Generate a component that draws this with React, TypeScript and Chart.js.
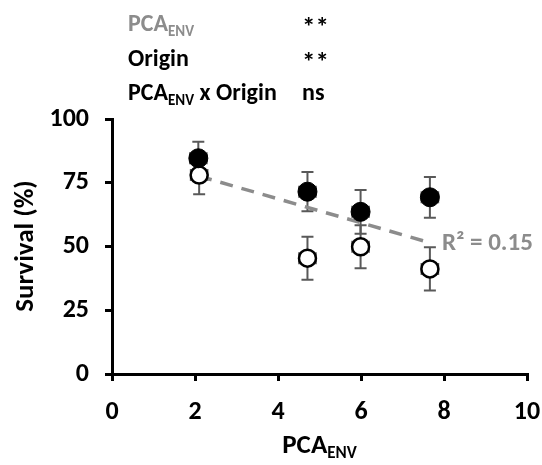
import React, { useEffect, useRef } from "react";
import { Chart, registerables } from "chart.js";

Chart.register(...registerables);

const xFilled = [2.08, 4.71, 5.99, 7.66];
const yFilled = [84.6, 71.5, 63.6, 69.3];
const errFilled = [6.5, 7.7, 8.6, 8.0];

const xOpen = [2.1, 4.71, 5.99, 7.66];
const yOpen = [78.0, 45.4, 49.9, 41.2];
const errOpen = [7.5, 8.4, 8.4, 8.5];

const xErr = [0.2, 0.2, 0.2, 0.2];

const trendX = [2.1, 7.66];
const trendY = [77.6, 51.5];

const yTicks = [0, 25, 50, 75, 100];
const xTicks = [0, 2, 4, 6, 8, 10];

const statLabels = ["PCA|ENV", "Origin", "PCA|ENV| x Origin"];
const statValues = ["**", "**", "ns"];
const r2Label = "R² = 0.15";

const FONT = "Carlito, 'Liberation Sans Narrow', Lato, sans-serif";
const GRAY = "#8c8c8c";
const ERR = "#595959";

function drawSub(ctx: CanvasRenderingContext2D, x: number, y: number, text: string, size: number, color: string) {
  const parts = text.split("|");
  let cx = x;
  parts.forEach((p, i) => {
    const isSub = i % 2 === 1;
    ctx.font = `bold ${isSub ? Math.round(size * 0.62) : size}px ${FONT}`;
    ctx.fillStyle = color;
    ctx.textBaseline = "alphabetic";
    ctx.textAlign = "left";
    ctx.fillText(p, cx, isSub ? y + size * 0.2 : y);
    cx += ctx.measureText(p).width;
  });
  return cx;
}

function measureSub(ctx: CanvasRenderingContext2D, text: string, size: number) {
  const parts = text.split("|");
  let w = 0;
  parts.forEach((p, i) => {
    const isSub = i % 2 === 1;
    ctx.font = `bold ${isSub ? Math.round(size * 0.62) : size}px ${FONT}`;
    w += ctx.measureText(p).width;
  });
  return w;
}

const overlayPlugin = {
  id: "overlay",
  beforeDatasetsDraw(chart: any) {
    const ctx = chart.ctx as CanvasRenderingContext2D;
    const xs = chart.scales.x;
    const ys = chart.scales.y;
    ctx.save();
    ctx.strokeStyle = ERR;
    ctx.lineWidth = 2;
    const cap = 6;
    const drawErr = (xv: number[], yv: number[], ev: number[]) => {
      for (let i = 0; i < xv.length; i++) {
        const px = xs.getPixelForValue(xv[i]);
        const py = ys.getPixelForValue(yv[i]);
        const top = ys.getPixelForValue(yv[i] + ev[i]);
        const bot = ys.getPixelForValue(yv[i] - ev[i]);
        const l = xs.getPixelForValue(xv[i] - xErr[i]);
        const r = xs.getPixelForValue(xv[i] + xErr[i]);
        ctx.beginPath();
        ctx.moveTo(px, top);
        ctx.lineTo(px, bot);
        ctx.moveTo(px - cap, top);
        ctx.lineTo(px + cap, top);
        ctx.moveTo(px - cap, bot);
        ctx.lineTo(px + cap, bot);
        ctx.moveTo(l, py);
        ctx.lineTo(r, py);
        ctx.moveTo(l, py - cap);
        ctx.lineTo(l, py + cap);
        ctx.moveTo(r, py - cap);
        ctx.lineTo(r, py + cap);
        ctx.stroke();
      }
    };
    drawErr(xFilled, yFilled, errFilled);
    drawErr(xOpen, yOpen, errOpen);
    ctx.restore();
  },
  afterDraw(chart: any) {
    const ctx = chart.ctx as CanvasRenderingContext2D;
    const xs = chart.scales.x;
    const ys = chart.scales.y;
    const area = chart.chartArea;
    ctx.save();
    // stats block
    const baselines = [31, 66, 100];
    statLabels.forEach((t, i) => {
      drawSub(ctx, 128, baselines[i], t, 24, i === 0 ? GRAY : "#000");
      const isNs = statValues[i] === "ns";
      ctx.font = `bold ${isNs ? 24 : 27}px ${FONT}`;
      ctx.fillStyle = "#000";
      ctx.textAlign = "left";
      ctx.fillText(statValues[i], 302, baselines[i] + (isNs ? 0 : 5));
    });
    // R2 label
    ctx.font = `bold 25px ${FONT}`;
    ctx.fillStyle = GRAY;
    ctx.textAlign = "left";
    ctx.textBaseline = "middle";
    ctx.fillText(r2Label, xs.getPixelForValue(7.95), ys.getPixelForValue(51));
    // x title
    const xt = "PCA|ENV";
    const w = measureSub(ctx, xt, 27);
    drawSub(ctx, (area.left + area.right) / 2 - w / 2, 453, xt, 27, "#000");
    // y title
    ctx.translate(33, 246);
    ctx.rotate(-Math.PI / 2);
    ctx.font = `bold 27px ${FONT}`;
    ctx.fillStyle = "#000";
    ctx.textAlign = "center";
    ctx.textBaseline = "alphabetic";
    ctx.fillText("Survival (%)", 0, 0);
    ctx.restore();
  },
};

export default function App() {
  const ref = useRef<HTMLCanvasElement>(null);
  useEffect(() => {
    if (!ref.current) return;
    const chart = new Chart(ref.current, {
      type: "scatter",
      data: {
        datasets: [
          {
            type: "line",
            data: trendX.map((x, i) => ({ x, y: trendY[i] })),
            borderColor: GRAY,
            borderWidth: 3.5,
            borderDash: [13, 9],
            pointRadius: 0,
            fill: false,
            order: 3,
          },
          {
            data: xOpen.map((x, i) => ({ x, y: yOpen[i] })),
            backgroundColor: "#fff",
            borderColor: "#000",
            borderWidth: 2.5,
            pointRadius: 8.5,
            order: 2,
          },
          {
            data: xFilled.map((x, i) => ({ x, y: yFilled[i] })),
            backgroundColor: "#000",
            borderColor: "#000",
            borderWidth: 1,
            pointRadius: 9.5,
            order: 1,
          },
        ] as any,
      },
      options: {
        animation: false,
        responsive: false,
        layout: { padding: { top: 119, right: 15, left: 0, bottom: 0 } },
        plugins: { legend: { display: false }, tooltip: { enabled: false } },
        scales: {
          x: {
            type: "linear",
            min: 0,
            max: 10,
            afterBuildTicks: (s: any) => {
              s.ticks = xTicks.map((v) => ({ value: v }));
            },
            afterFit: (s: any) => {
              s.height = 91;
              s.paddingLeft = 0;
              s.paddingRight = 0;
            },
            border: { color: "#000", width: 3 },
            grid: { display: true, drawOnChartArea: false, drawTicks: true, tickLength: 7, color: "#000", lineWidth: 3 },
            ticks: { color: "#000", font: { family: FONT, size: 26, weight: "bold" }, padding: 16, maxRotation: 0 },
          },
          y: {
            type: "linear",
            min: 0,
            max: 100,
            afterBuildTicks: (s: any) => {
              s.ticks = yTicks.map((v) => ({ value: v }));
            },
            afterFit: (s: any) => {
              s.width = 112;
              s.paddingTop = 0;
              s.paddingBottom = 0;
            },
            border: { color: "#000", width: 3 },
            grid: { display: true, drawOnChartArea: false, drawTicks: true, tickLength: 7, color: "#000", lineWidth: 3 },
            ticks: { color: "#000", font: { family: FONT, size: 26, weight: "bold" }, padding: 16 },
          },
        },
      },
      plugins: [overlayPlugin],
    } as any);
    return () => chart.destroy();
  }, []);
  return (
    <div style={{ position: "fixed", left: 0, top: 0, width: 542, height: 465, background: "#fff" }}>
      <canvas ref={ref} width={542} height={465} />
    </div>
  );
}
